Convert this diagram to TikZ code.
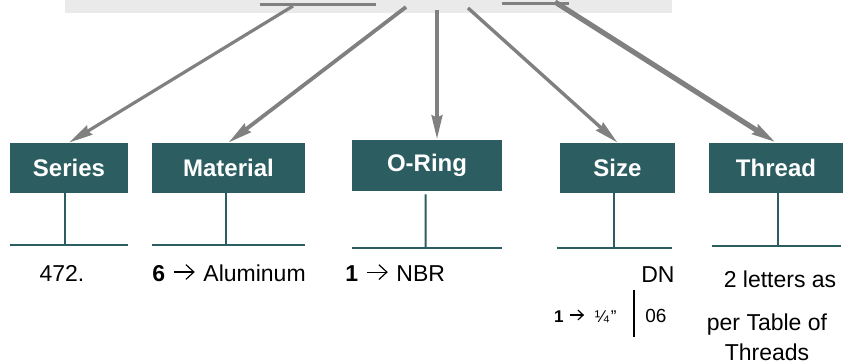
\documentclass[tikz,border=0pt]{standalone}
\usepackage{fontspec}
\setmainfont{Liberation Sans}
\usetikzlibrary{arrows.meta}
\definecolor{codeteal}{RGB}{44,94,97}
\definecolor{codegray}{RGB}{128,128,128}
\definecolor{codebar}{RGB}{234,234,234}
% open arrow used inside the key texts
\newcommand\keyarrow[1]{\tikz[baseline=-0.8ex]\draw[line width=0.6pt,-{Straight Barb[length=0.38*#1,width=0.7*#1]}] (0,0) -- (#1,0);}

\begin{document}
\begin{tikzpicture}[
  x=0.5pt, y=-0.5pt,
  field/.style={fill=codeteal, text=white, font=\bfseries\fontsize{12}{14}\selectfont, minimum height=25pt, inner sep=0pt},
  pointer/.style={draw=codegray, -{Stealth[length=12pt,width=5.2pt,inset=1pt]}},
  stem/.style={draw=codeteal, line width=1pt},
  entry/.style={font=\fontsize{11.5}{15}\selectfont, inner sep=0pt}
]
\useasboundingbox (0,0) rectangle (843,363);
\fill[codebar] (65,0) rectangle (672,13);
\draw[codegray, line width=1.5pt] (260,5) -- (376,5);
\draw[codegray, line width=1.5pt] (502,4) -- (569,4);

\node[field, minimum width=59pt] (series) at (69,168) {Series};
\node[field, minimum width=76.5pt] (material) at (228.5,168) {Material};
\node[field, minimum width=75pt, minimum height=25.5pt] (oring) at (427,165.5) {O-Ring};
\node[field, minimum width=57.5pt] (size) at (617.5,168) {Size};
\node[field, minimum width=67pt] (thread) at (776,168) {Thread};

\coordinate (src1) at (293,6);
\coordinate (src2) at (406,7);
\coordinate (src3) at (437,10);
\coordinate (src4) at (468,8);
\coordinate (src5) at (555,2);
\draw[pointer, line width=1.6pt] (src1) -- (series.north);
\draw[pointer, line width=1.9pt] (src2) -- (material.north);
\draw[pointer, line width=2.2pt] (src3) -- (src3 |- oring.north);
\draw[pointer, line width=1.7pt] (src4) -- (size.north);
\draw[pointer, line width=2.6pt] (src5) -- (thread.north);

% stems and base lines
\draw[stem] ([xshift=-2pt]series.south) -- ++(0,52) coordinate (seriesfoot);
\draw[stem] (series.west |- seriesfoot) -- (series.east |- seriesfoot);
\draw[stem] ([xshift=-1.5pt]material.south) -- ++(0,52) coordinate (materialfoot);
\draw[stem] (material.west |- materialfoot) -- (material.east |- materialfoot);
\draw[stem] ([xshift=-0.7pt,yshift=-1.5pt]oring.south) -- (425.7,248) coordinate (oringfoot);
\draw[stem] (oring.west |- oringfoot) -- (oring.east |- oringfoot);
\draw[stem] ([xshift=-1.7pt]size.south) -- ++(0,55) coordinate (sizefoot);
\draw[stem] ([xshift=-1.5pt]size.west |- sizefoot) -- ([xshift=-1.5pt]size.east |- sizefoot);
\draw[stem] ([xshift=1pt]thread.south) -- ++(0,53) coordinate (threadfoot);
\draw[stem] (712,246) -- (841,246);

\node[entry] (serieskey) at (62,273) {472.};
\node[entry, anchor=west] (materialkey) at (152,273) {\textbf{6}\hspace{4pt}\keyarrow{10.5pt}\hspace{4pt}Aluminum};
\node[entry, anchor=west] (oringkey) at (345,273) {\textbf{1}\hspace{4pt}\keyarrow{10.5pt}\hspace{4pt}NBR};
\node[entry, anchor=east] (sizekey) at (675,275) {DN};
\node[entry, anchor=east, font=\fontsize{8.5}{10}\selectfont] (sizeex) at (617,316) {\textbf{1}\hspace{3pt}\keyarrow{7pt}\hspace{5pt}¼\hspace{1pt}”};
\draw[black, line width=1pt] (634,290) -- (634,337);
\node[entry, anchor=west, font=\fontsize{9.5}{11}\selectfont] (sizecode) at (645,316) {06};
\node[entry] (threadkey) at (780,279) {2 letters as};
\node[entry, align=center] (threadmore) at (767,337) {per Table of\\Threads};
\end{tikzpicture}
\end{document}
